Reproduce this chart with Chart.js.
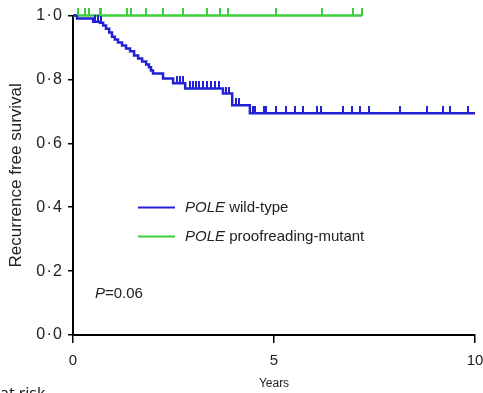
<!DOCTYPE html>
<html>
<head>
<meta charset="utf-8">
<script src="https://cdn.jsdelivr.net/npm/chart.js@4/dist/chart.umd.min.js"></script>
<style>
html,body{margin:0;padding:0;background:#fff;}
#wrap{width:483px;height:393px;}
</style>
</head>
<body>
<div id="wrap"><canvas id="chart" width="483" height="393"></canvas></div>
<script>

/* -------- DATA -------- */

const seriesNames = ["wild-type", "proofreading-mutant"];

const wtYears = [0, 0.10, 0.50, 0.67, 0.75, 0.82, 0.90, 0.97, 1.04, 1.12, 1.22, 1.32, 1.42, 1.52, 1.62, 1.72, 1.82, 1.89, 1.94, 1.99, 2.24, 2.49, 2.79, 3.73, 3.96, 4.40, 10.0];
const wtSurv = [1.0, 0.991, 0.981, 0.978, 0.969, 0.959, 0.947, 0.934, 0.925, 0.916, 0.906, 0.897, 0.888, 0.875, 0.866, 0.856, 0.847, 0.838, 0.828, 0.819, 0.803, 0.788, 0.772, 0.756, 0.719, 0.694, 0.694];
const wtCensored = [0.55, 0.62, 0.70, 2.59, 2.66, 2.74, 2.91, 2.99, 3.06, 3.13, 3.23, 3.33, 3.43, 3.53, 3.63, 3.81, 3.88, 4.05, 4.13, 4.48, 4.53, 4.75, 4.80, 5.05, 5.30, 5.52, 5.71, 6.06, 6.18, 6.72, 6.93, 7.14, 7.37, 8.13, 8.80, 9.20, 9.38, 9.83];

const mutYears = [0, 7.19];
const mutSurv = [1.0, 1.0];
const mutCensored = [0.13, 0.30, 0.40, 0.67, 0.70, 1.34, 1.44, 1.82, 2.24, 2.74, 3.33, 3.66, 3.86, 5.05, 6.19, 6.97, 7.19];

const xTicks = [0, 5, 10];
const yTicks = [0, 0.2, 0.4, 0.6, 0.8, 1.0];

const pValue = "0.06";

const blue = "#2222d4";
const green = "#3ccf3c";
const font = "'Liberation Sans', Arial, sans-serif";


/* -------- HELPERS -------- */

function survAt(times, surv, t){
let s = surv[0];
for(let i=0;i<times.length;i++){
if(times[i] <= t) s = surv[i];
}
return s;
}

function toPoints(times, surv){
return times.map((t,i)=>({x:t, y:surv[i]}));
}

function censorPoints(cens, times, surv){
return cens.map(t=>({x:t, y:survAt(times, surv, t)}));
}

// small upward tick used as point marker
function makeTick(color, h){
const c = document.createElement("canvas");
c.width = 2;
c.height = h*2;
const g = c.getContext("2d");
g.fillStyle = color;
g.fillRect(0,0,2,h);
return c;
}


/* -------- OVERLAY (legend, P value, at risk) -------- */

const overlay = {
id:"overlay",
afterDraw(chart){
const ctx = chart.ctx;
const a = chart.chartArea;
ctx.save();

const items = [
{color:blue, name:seriesNames[0]},
{color:green, name:seriesNames[1]}
];

items.forEach((it,i)=>{
const y = a.top + 192 + i*29;
ctx.strokeStyle = it.color;
ctx.lineWidth = 2;
ctx.beginPath();
ctx.moveTo(a.left + 65, y);
ctx.lineTo(a.left + 102, y);
ctx.stroke();

ctx.fillStyle = "#222";
ctx.textBaseline = "middle";
ctx.font = "italic 15px " + font;
ctx.fillText("POLE", a.left + 112, y);
const w = ctx.measureText("POLE ").width;
ctx.font = "15px " + font;
ctx.fillText(it.name, a.left + 112 + w, y);
});

ctx.font = "italic 15px " + font;
ctx.fillText("P", a.left + 22, a.top + 278);
const pw = ctx.measureText("P").width;
ctx.font = "15px " + font;
ctx.fillText("=" + pValue, a.left + 22 + pw, a.top + 278);

ctx.font = "16px 'Open Sans', sans-serif";
ctx.textBaseline = "top";
ctx.fillStyle = "#111";
ctx.fillText("at risk", 0, 386);

ctx.restore();
}
};


/* -------- CHART -------- */

const chart = new Chart(document.getElementById("chart"),{

type:"scatter",

data:{

datasets:[

{
label:"POLE " + seriesNames[0],
data:toPoints(wtYears, wtSurv),
showLine:true,
stepped:true,
borderColor:blue,
borderWidth:2.5,
pointRadius:0,
clip:false,
order:2
},

{
label:"POLE " + seriesNames[1],
data:toPoints(mutYears, mutSurv),
showLine:true,
stepped:true,
borderColor:green,
borderWidth:2.5,
pointRadius:0,
clip:false,
order:3
},

{
label:"wt censored",
data:censorPoints(wtCensored, wtYears, wtSurv),
pointStyle:makeTick(blue, 7),
pointRadius:3,
clip:false,
order:1
},

{
label:"mut censored",
data:censorPoints(mutCensored, mutYears, mutSurv),
pointStyle:makeTick(green, 8),
pointRadius:3,
clip:false,
order:1
}

]

},

options:{

responsive:false,
animation:false,
events:[],

layout:{padding:{top:15, right:8, bottom:0, left:0}},

plugins:{
legend:{display:false},
tooltip:{enabled:false}
},

scales:{

x:{
type:"linear",
min:0,
max:10,
afterBuildTicks:s=>{ s.ticks = xTicks.map(v=>({value:v})); },
afterFit:s=>{ s.height = 58; s.paddingLeft = 0; s.paddingRight = 0; },
ticks:{
color:"#222",
font:{family:font, size:15},
padding:9,
maxRotation:0
},
grid:{
drawOnChartArea:false,
color:"#000",
tickLength:8,
lineWidth:1.5
},
border:{color:"#000", width:2},
title:{
display:true,
text:"Years",
color:"#222",
font:{family:font, size:12},
padding:{top:0, bottom:2}
}
},

y:{
min:0,
max:1,
afterBuildTicks:s=>{ s.ticks = yTicks.map(v=>({value:v})); },
afterFit:s=>{ s.width = 73; },
ticks:{
color:"#222",
font:{family:font, size:16},
padding:6,
callback:v=>v.toFixed(1).replace(".","\u200a·\u200a")
},
grid:{
drawOnChartArea:false,
color:"#000",
tickLength:5,
lineWidth:1.5
},
border:{color:"#000", width:2},
title:{
display:true,
text:"Recurrence free survival",
color:"#222",
font:{family:font, size:17},
padding:{top:6, bottom:0}
}
}

}

},

plugins:[overlay]

});

</script>
</body>
</html>
